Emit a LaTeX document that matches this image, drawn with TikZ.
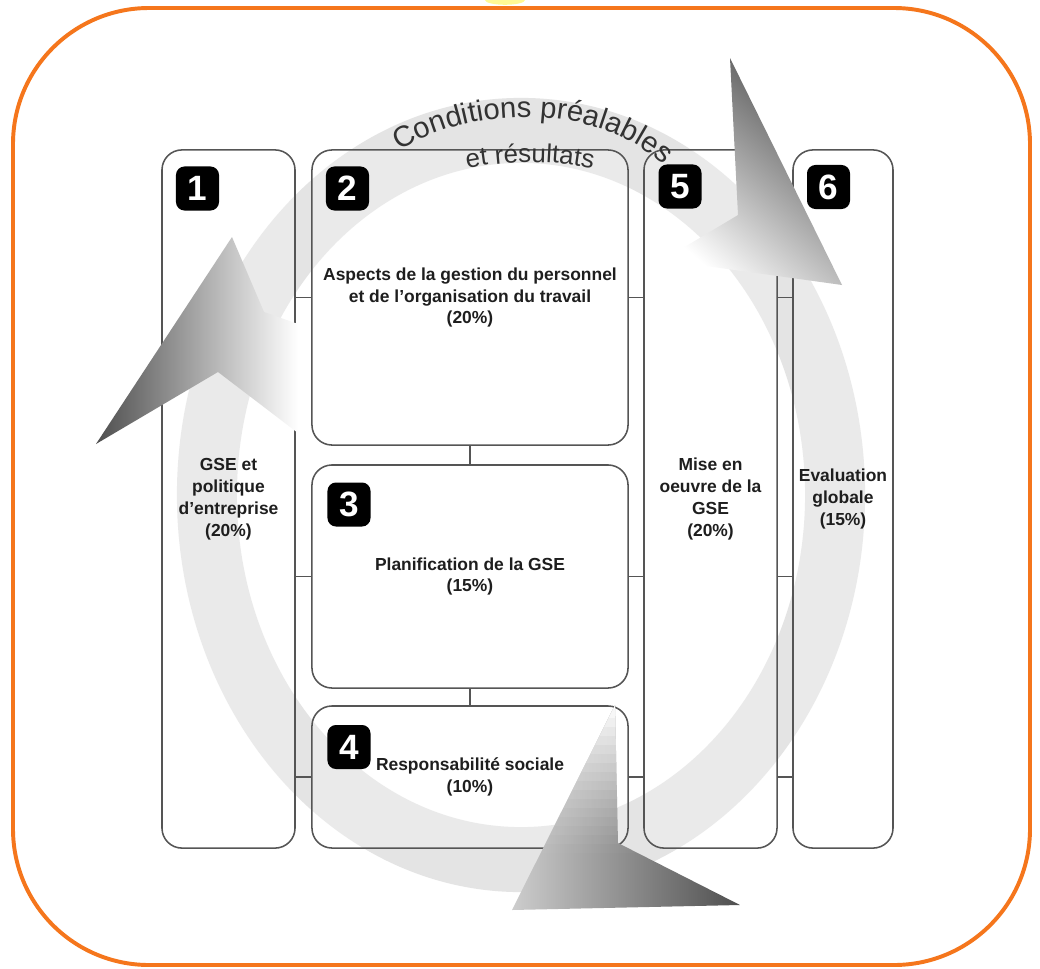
\documentclass[tikz,border=0pt]{standalone}
\usepackage{fontspec}
\setmainfont{Liberation Sans}
\usetikzlibrary{decorations.text}
\definecolor{frameorange}{RGB}{245,118,28}
\definecolor{ringgray}{RGB}{228,228,228}
\definecolor{linegray}{RGB}{85,85,85}
\definecolor{textdark}{RGB}{30,30,30}
\definecolor{titlegray}{RGB}{50,50,50}
\definecolor{arrowdark}{RGB}{78,78,78}
\definecolor{arrowlight}{RGB}{205,205,205}
\newcommand{\boxfont}{\fontsize{12.4}{15.6}\selectfont\bfseries}
\newcommand{\badgefont}{\fontsize{25}{25}\selectfont\bfseries}
\newcommand{\titlefontA}{\fontsize{20.8}{20.8}\selectfont}
\newcommand{\titlefontB}{\fontsize{18.4}{18.4}\selectfont}
\tikzset{
  boxnode/.style={draw=linegray, line width=1.1pt, rounded corners=0.5cm, fill=white, fill opacity=0.25, text opacity=1, inner sep=0pt, outer sep=0pt, align=center, font=\boxfont, text=textdark},
  badge/.style={fill=black, rounded corners=6pt, minimum width=1.075cm, minimum height=1.1cm, inner sep=0pt, outer sep=0pt, text=white, font=\badgefont},
  link/.style={draw=linegray, line width=1.4pt},
  bigarrow/.style={draw=none},
}
\begin{document}
\begin{tikzpicture}[x=0.025cm, y=-0.025cm]
\useasboundingbox (0,0) rectangle (1040,968);
\begin{scope}
  \clip (0,0) rectangle (1040,968);
  \fill[yellow!60!white, opacity=0.7] (505,0) ellipse [x radius=0.5cm, y radius=0.12cm];
\end{scope}
% frame
\draw[frameorange, line width=2.8pt, rounded corners=3.4cm, fill=white] (13,8) rectangle (1030,965);
% ring
\fill[ringgray, even odd rule] (521,495) ellipse [x radius=8.6cm, y radius=9.925cm]
  (521,495) ellipse [x radius=7.1cm, y radius=8.3cm];
% boxes
\node[boxnode, minimum width=3.325cm, minimum height=17.45cm] (b1) at (228.5,499) {GSE et\\politique\\d'entreprise\\(20\%)};
\node[boxnode, minimum width=7.9cm, minimum height=7.375cm] (b2) at (470,297.5) {Aspects de la gestion du personnel\\et de l'organisation du travail\\(20\%)};
\node[boxnode, minimum width=7.9cm, minimum height=5.575cm] (b3) at (470,576.5) {Planification de la GSE\\(15\%)};
\node[boxnode, minimum width=7.9cm, minimum height=3.55cm] (b4) at (470,777) {Responsabilité sociale\\(10\%)};
\node[boxnode, minimum width=3.325cm, minimum height=17.45cm] (b5) at (710.5,499) {Mise en\\oeuvre de la\\GSE\\(20\%)};
\node[boxnode, minimum width=2.5cm, minimum height=17.45cm] (b6) at (843,499) {Evaluation\\globale\\(15\%)};
% connectors
\draw[link] (b1.east |- b2.center) -- (b2.west);
\draw[link] (b1.east |- b3.center) -- (b3.west);
\draw[link] (b1.east |- b4.center) -- (b4.west);
\draw[link] (b2.east) -- (b5.west |- b2.east);
\draw[link] (b3.east) -- (b5.west |- b3.east);
\draw[link] (b4.east) -- (b5.west |- b4.east);
\draw[link] (b5.east |- b2.east) -- (b6.west |- b2.east);
\draw[link] (b5.east |- b3.east) -- (b6.west |- b3.east);
\draw[link] (b5.east |- b4.east) -- (b6.west |- b4.east);
\draw[link] (b2.south) -- (b3.north);
\draw[link] (b3.south) -- (b4.north);
% badges
\node[badge] (n1) at (197.5,188.5) {1};
\node[badge] (n2) at (347.5,188.5) {2};
\node[badge] (n3) at (349,504.5) {3};
\node[badge] (n4) at (349,747) {4};
\node[badge] (n5) at (680,186.5) {5};
\node[badge] (n6) at (828.5,187) {6};
% curved title
\path[decorate, decoration={text along path, text align=center, text color=titlegray,
  text={|\titlefontA|Conditions préalables}}]
  (386,160) .. controls (455,106) and (600,94) .. (675,176);
\path[decorate, decoration={text along path, text align=center, text color=titlegray,
  text={|\titlefontB|et résultats}}]
  (452,172) .. controls (500,159) and (560,159) .. (608,172);
% arrowheads
\shade[bigarrow, top color=arrowdark, bottom color=white, shading angle=-41]
  (730,58) -- (842,285) -- (663,260) -- (738,215) -- cycle;
\shade[bigarrow, left color=arrowdark, right color=white]
  (96,444) -- (232,237) -- (264,312) -- (298,324) -- (298,433) -- (218,372) -- cycle;
\begin{scope}
  \clip (512,910) -- (615,705) -- (618,843) -- (740,905) -- cycle;
  \shade[bigarrow, left color=arrowlight, right color=arrowdark] (512,700) rectangle (740,912);
  \foreach \i in {0,...,23} {
    \pgfmathsetmacro{\op}{max(0,1-\i/17)^1.3}
    \fill[white, opacity=\op] (505,{700+\i*9}) rectangle (745,{709.3+\i*9});
  }
\end{scope}
\end{tikzpicture}
\end{document}
